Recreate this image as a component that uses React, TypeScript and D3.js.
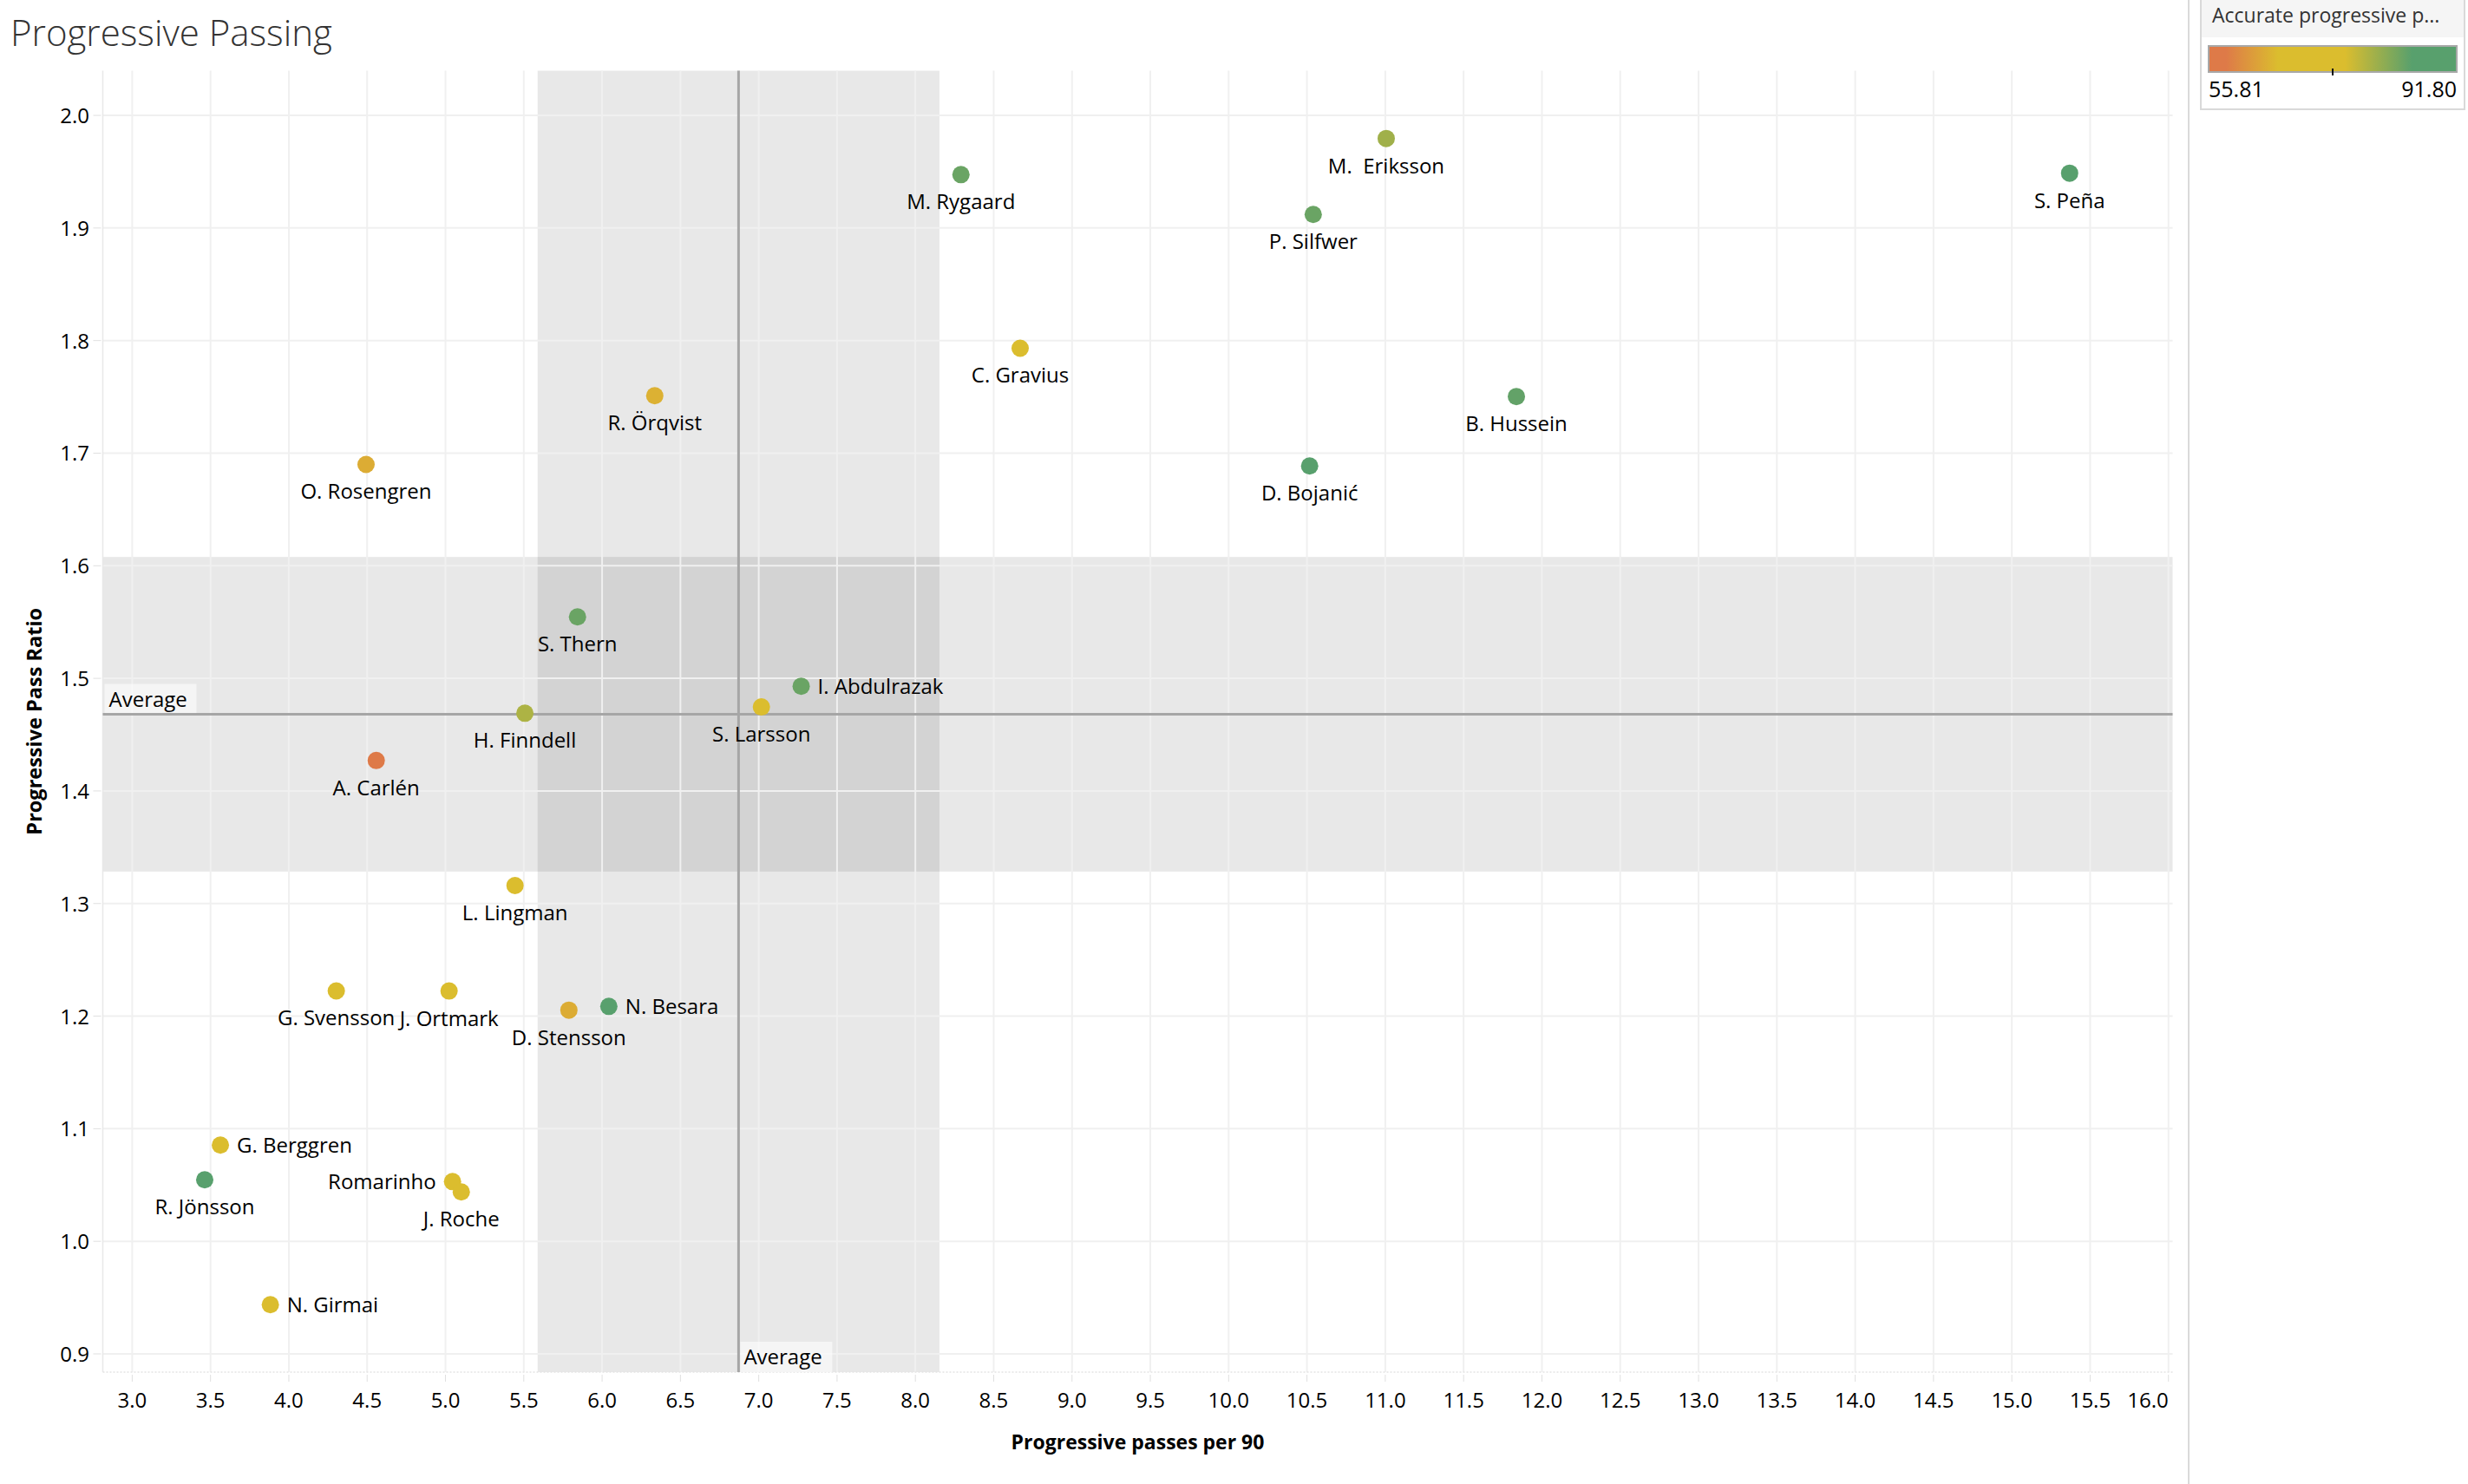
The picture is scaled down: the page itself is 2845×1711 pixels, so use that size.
import React, { useEffect, useRef } from 'react';
import * as d3 from 'd3';

const W = 2845;
const H = 1711;

const players = [
  'S. Peña', 'M.  Eriksson', 'M. Rygaard', 'P. Silfwer', 'C. Gravius', 'R. Örqvist',
  'B. Hussein', 'O. Rosengren', 'D. Bojanić', 'S. Thern', 'I. Abdulrazak', 'S. Larsson',
  'H. Finndell', 'A. Carlén', 'L. Lingman', 'G. Svensson', 'J. Ortmark', 'D. Stensson',
  'N. Besara', 'G. Berggren', 'R. Jönsson', 'Romarinho', 'J. Roche', 'N. Girmai',
];
const progPassesPer90 = [
  15.369, 11.006, 8.291, 10.54, 8.669, 6.336,
  11.837, 4.493, 10.517, 5.843, 7.271, 7.017,
  5.507, 4.558, 5.444, 4.303, 5.023, 5.788,
  6.043, 3.563, 3.463, 5.045, 5.101, 3.882,
];
const progPassRatio = [
  1.9487, 1.9795, 1.9474, 1.912, 1.7932, 1.751,
  1.7503, 1.69, 1.6886, 1.5546, 1.493, 1.4746,
  1.469, 1.427, 1.316, 1.2224, 1.2223, 1.2053,
  1.2086, 1.0854, 1.0546, 1.053, 1.0438, 0.9437,
];
const accuracyPct = [
  89.0, 80.0, 84.0, 84.0, 71.0, 64.5,
  84.5, 64.0, 87.5, 84.0, 84.0, 70.0,
  79.0, 55.81, 70.0, 70.0, 70.0, 64.0,
  88.0, 70.0, 91.8, 70.0, 70.0, 70.0,
];
const labelSide = [
  'below', 'below', 'below', 'below', 'below', 'below',
  'below', 'below', 'below', 'below', 'right', 'below',
  'below', 'below', 'below', 'below', 'below', 'below',
  'right', 'right', 'below', 'left', 'below', 'right',
];

const xTickValues = [3.0, 3.5, 4.0, 4.5, 5.0, 5.5, 6.0, 6.5, 7.0, 7.5, 8.0, 8.5, 9.0, 9.5, 10.0, 10.5, 11.0, 11.5, 12.0, 12.5, 13.0, 13.5, 14.0, 14.5, 15.0, 15.5, 16.0];
const yTickValues = [0.9, 1.0, 1.1, 1.2, 1.3, 1.4, 1.5, 1.6, 1.7, 1.8, 1.9, 2.0];

const colorMin = 55.81;
const colorMax = 91.8;
const paletteStops = [0, 0.07, 0.28, 0.55, 0.82, 1];
const paletteColors = ['#de7a48', '#de7a48', '#dbbd2e', '#dbbd2e', '#58a06d', '#58a06d'];

const FONT = "'Open Sans', 'Noto Sans', 'DejaVu Sans', sans-serif";

export default function App() {
  const ref = useRef<SVGSVGElement | null>(null);

  useEffect(() => {
    document.body.style.margin = '0';
    document.body.style.overflow = 'hidden';
    const svg = d3.select(ref.current);
    svg.selectAll('*').remove();

    const left = 118.5, right = 2504.5, top = 81.5, bottom = 1582;
    const x = d3.scaleLinear().domain([2.8123, 16.0266]).range([left, right]);
    const y = d3.scaleLinear().domain([0.8838, 2.0397]).range([bottom, top]);

    const color = d3.scaleLinear<string>()
      .domain(paletteStops.map(t => colorMin + t * (colorMax - colorMin)))
      .range(paletteColors)
      .interpolate(d3.interpolateRgb);

    const n = players.length;
    const t = 2.069;
    const mx = d3.mean(progPassesPer90)!;
    const my = d3.mean(progPassRatio)!;
    const cx = t * d3.deviation(progPassesPer90)! / Math.sqrt(n);
    const cy = t * d3.deviation(progPassRatio)! / Math.sqrt(n);

    svg.append('rect').attr('width', W).attr('height', H).attr('fill', '#fff');

    // title
    svg.append('text').attr('x', 12).attr('y', 53)
      .attr('font-family', FONT).attr('font-size', 42).attr('font-weight', 300)
      .attr('fill', '#333').text('Progressive Passing');

    // bands
    const g = svg.append('g');
    g.append('rect').attr('x', x(mx - cx)).attr('y', top)
      .attr('width', x(mx + cx) - x(mx - cx)).attr('height', bottom - top)
      .attr('fill', 'rgba(0,0,0,0.09)');
    g.append('rect').attr('x', left).attr('y', y(my + cy))
      .attr('width', right - left).attr('height', y(my - cy) - y(my + cy))
      .attr('fill', 'rgba(0,0,0,0.09)');

    // gridlines
    g.selectAll('.vg').data(xTickValues).enter().append('line')
      .attr('x1', d => x(d)).attr('x2', d => x(d)).attr('y1', top).attr('y2', bottom)
      .attr('stroke', '#f0f0f0').attr('stroke-width', 2);
    g.selectAll('.hg').data(yTickValues).enter().append('line')
      .attr('y1', d => y(d)).attr('y2', d => y(d)).attr('x1', left).attr('x2', right)
      .attr('stroke', '#f0f0f0').attr('stroke-width', 2);

    // axis borders
    g.append('line').attr('x1', left).attr('x2', left).attr('y1', top).attr('y2', bottom)
      .attr('stroke', '#e8e8e8').attr('stroke-width', 1.5);
    g.append('line').attr('x1', left).attr('x2', right).attr('y1', bottom).attr('y2', bottom)
      .attr('stroke', '#e4e4e4').attr('stroke-width', 1.5).attr('stroke-dasharray', '2,2');

    // tick marks
    g.selectAll('.xt').data(xTickValues).enter().append('line')
      .attr('x1', d => x(d)).attr('x2', d => x(d)).attr('y1', bottom + 3).attr('y2', bottom + 11)
      .attr('stroke', '#e0e0e0').attr('stroke-width', 1);
    g.selectAll('.yt').data(yTickValues).enter().append('line')
      .attr('y1', d => y(d)).attr('y2', d => y(d)).attr('x1', left - 11).attr('x2', left - 2)
      .attr('stroke', '#e0e0e0').attr('stroke-width', 1);

    // tick labels
    const lastX = xTickValues[xTickValues.length - 1];
    g.selectAll('.xl').data(xTickValues).enter().append('text')
      .attr('x', d => x(d)).attr('y', 1623)
      .attr('text-anchor', d => d === lastX ? 'end' : 'middle')
      .attr('font-family', FONT).attr('font-size', 24).attr('fill', '#000')
      .text(d => d3.format('.1f')(d));
    g.selectAll('.yl').data(yTickValues).enter().append('text')
      .attr('x', 103).attr('y', d => y(d) + 9).attr('text-anchor', 'end')
      .attr('font-family', FONT).attr('font-size', 24).attr('fill', '#000')
      .text(d => d3.format('.1f')(d));

    // axis titles
    g.append('text').attr('x', (left + right) / 2).attr('y', 1671).attr('text-anchor', 'middle')
      .attr('font-family', FONT).attr('font-size', 23).attr('font-weight', 700).attr('fill', '#000')
      .text('Progressive passes per 90');
    g.append('text').attr('transform', `translate(48,${(top + bottom) / 2}) rotate(-90)`)
      .attr('text-anchor', 'middle')
      .attr('font-family', FONT).attr('font-size', 23.5).attr('font-weight', 700).attr('fill', '#000')
      .text('Progressive Pass Ratio');

    // average lines
    g.append('line').attr('x1', left).attr('x2', right).attr('y1', y(my)).attr('y2', y(my))
      .attr('stroke', '#a6a6a6').attr('stroke-width', 3);
    g.append('line').attr('x1', x(mx)).attr('x2', x(mx)).attr('y1', top).attr('y2', bottom)
      .attr('stroke', '#a6a6a6').attr('stroke-width', 3);

    // average labels
    g.append('rect').attr('x', left + 2).attr('y', y(my) - 35).attr('width', 106).attr('height', 33.5)
      .attr('fill', 'rgba(255,255,255,0.55)');
    g.append('text').attr('x', left + 7).attr('y', y(my) - 9)
      .attr('font-family', FONT).attr('font-size', 24).attr('fill', '#000').text('Average');
    g.append('rect').attr('x', x(mx) + 2).attr('y', bottom - 35).attr('width', 106).attr('height', 35)
      .attr('fill', 'rgba(255,255,255,0.55)');
    g.append('text').attr('x', x(mx) + 6).attr('y', bottom - 9.5)
      .attr('font-family', FONT).attr('font-size', 24).attr('fill', '#000').text('Average');

    // points
    const idx = d3.range(n);
    g.selectAll('.pt').data(idx).enter().append('circle')
      .attr('cx', i => x(progPassesPer90[i])).attr('cy', i => y(progPassRatio[i]))
      .attr('r', 10).attr('fill', i => color(accuracyPct[i]));

    // labels
    g.selectAll('.lb').data(idx).enter().append('text')
      .attr('x', i => {
        const px = x(progPassesPer90[i]);
        return labelSide[i] === 'right' ? px + 19 : labelSide[i] === 'left' ? px - 19 : px;
      })
      .attr('y', i => {
        const py = y(progPassRatio[i]);
        return labelSide[i] === 'below' ? py + 40 : py + 9;
      })
      .attr('text-anchor', i => labelSide[i] === 'right' ? 'start' : labelSide[i] === 'left' ? 'end' : 'middle')
      .attr('font-family', FONT).attr('font-size', 24).attr('fill', '#000')
      .attr('xml:space', 'preserve').style('white-space', 'pre')
      .text(i => players[i]);

    // separator
    svg.append('line').attr('x1', 2523).attr('x2', 2523).attr('y1', 0).attr('y2', H)
      .attr('stroke', '#dadada').attr('stroke-width', 2);

    // legend
    const lg = svg.append('g');
    lg.append('rect').attr('x', 2537).attr('y', -2).attr('width', 304).attr('height', 128)
      .attr('fill', '#fff').attr('stroke', '#d9d9d9').attr('stroke-width', 2);
    lg.append('rect').attr('x', 2538).attr('y', 0).attr('width', 302).attr('height', 43)
      .attr('fill', '#f5f5f5');
    lg.append('text').attr('x', 2550).attr('y', 26)
      .attr('font-family', FONT).attr('font-size', 23).attr('fill', '#333')
      .text('Accurate progressive p...');
    const defs = svg.append('defs');
    const grad = defs.append('linearGradient').attr('id', 'lgGrad').attr('x1', '0%').attr('x2', '100%');
    paletteStops.forEach((s, k) => {
      grad.append('stop').attr('offset', `${s * 100}%`).attr('stop-color', paletteColors[k]);
    });
    const legendScale = d3.scaleLinear().domain([colorMin, colorMax]).range([2546, 2832]);
    lg.append('rect').attr('x', legendScale(colorMin)).attr('y', 53)
      .attr('width', legendScale(colorMax) - legendScale(colorMin)).attr('height', 30)
      .attr('fill', 'url(#lgGrad)').attr('stroke', '#a8a8a8').attr('stroke-width', 2);
    lg.append('line').attr('x1', legendScale((colorMin + colorMax) / 2)).attr('x2', legendScale((colorMin + colorMax) / 2))
      .attr('y1', 79).attr('y2', 87).attr('stroke', '#111').attr('stroke-width', 2);
    lg.append('text').attr('x', 2546).attr('y', 112)
      .attr('font-family', FONT).attr('font-size', 25).attr('fill', '#000')
      .text(d3.format('.2f')(colorMin));
    lg.append('text').attr('x', 2832).attr('y', 112).attr('text-anchor', 'end')
      .attr('font-family', FONT).attr('font-size', 25).attr('fill', '#000')
      .text(d3.format('.2f')(colorMax));
  }, []);

  return (
    <svg ref={ref} width={W} height={H}
      style={{ position: 'absolute', left: 0, top: 0, display: 'block' }} />
  );
}
